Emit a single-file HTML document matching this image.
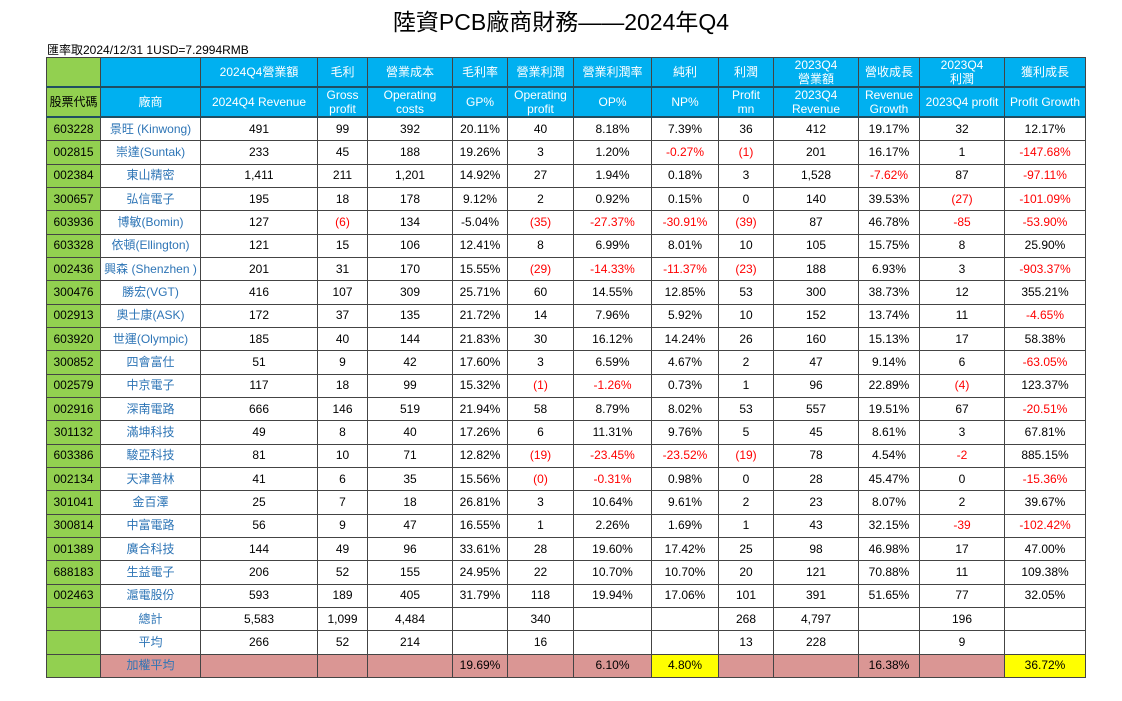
<!DOCTYPE html>
<html><head><meta charset="utf-8">
<style>
body{margin:0;width:1122px;height:701px;background:#fff;position:relative;overflow:hidden;font-family:"Liberation Sans","Noto Sans CJK TC",sans-serif;}
#title{position:absolute;left:0;width:1122px;top:7px;text-align:center;font-size:23px;color:#000;line-height:30px;}
#sub{position:absolute;left:47px;top:41px;font-size:12px;color:#000;}
table{position:absolute;left:46px;top:57px;border-collapse:collapse;table-layout:fixed;width:1039px;border:1.5px solid #222;}
td{border:1px solid #444;padding:0;text-align:center;font-size:12px;line-height:13px;overflow:hidden;white-space:nowrap;height:22.33px;color:#000;}
tr.h td{background:#00B0F0;color:#fff;height:26px;line-height:14px;border-bottom:2px solid #1f4e62;}
td.g{background:#92D050 !important;color:#000 !important;}
td.n{color:#2E75B6;}
td.r{color:#f00;}
td.p{background:#DA9694;}
td.y{background:#FFFF00;}
</style></head><body>
<div id="title">陸資PCB廠商財務——2024年Q4</div>
<div id="sub">匯率取2024/12/31 1USD=7.2994RMB</div>
<table id="tbl">
<colgroup><col style="width:54px"><col style="width:100px"><col style="width:117px"><col style="width:50px"><col style="width:85px"><col style="width:55px"><col style="width:66px"><col style="width:78px"><col style="width:67px"><col style="width:55px"><col style="width:85px"><col style="width:61px"><col style="width:85px"><col style="width:81px"></colgroup>
<tbody id="tb"></tbody></table>
<script>
const headers1 = ["","","2024Q4營業額","毛利","營業成本","毛利率","營業利潤","營業利潤率","純利","利潤","2023Q4<br>營業額","營收成長","2023Q4<br>利潤","獲利成長"];
const headers2 = ["股票代碼","廠商","2024Q4 Revenue","Gross<br>profit","Operating<br>costs","GP%","Operating<br>profit","OP%","NP%","Profit<br>mn","2023Q4<br>Revenue","Revenue<br>Growth","2023Q4 profit","Profit Growth"];
const codes = ["603228","002815","002384","300657","603936","603328","002436","300476","002913","603920","300852","002579","002916","301132","603386","002134","301041","300814","001389","688183","002463"];
const names = ["景旺 (Kinwong)","崇達(Suntak)","東山精密","弘信電子","博敏(Bomin)","依頓(Ellington)","興森 (Shenzhen )","勝宏(VGT)","奧士康(ASK)","世運(Olympic)","四會富仕","中京電子","深南電路","滿坤科技","駿亞科技","天津普林","金百澤","中富電路","廣合科技","生益電子","滬電股份"];
const revenue24 = ["491","233","1,411","195","127","121","201","416","172","185","51","117","666","49","81","41","25","56","144","206","593"];
const grossProfit = ["99","45","211","18","(6)","15","31","107","37","40","9","18","146","8","10","6","7","9","49","52","189"];
const opCosts = ["392","188","1,201","178","134","106","170","309","135","144","42","99","519","40","71","35","18","47","96","155","405"];
const gp = ["20.11%","19.26%","14.92%","9.12%","-5.04%*","12.41%","15.55%","25.71%","21.72%","21.83%","17.60%","15.32%","21.94%","17.26%","12.82%","15.56%","26.81%","16.55%","33.61%","24.95%","31.79%"];
const opProfit = ["40","3","27","2","(35)","8","(29)","60","14","30","3","(1)","58","6","(19)","(0)","3","1","28","22","118"];
const op = ["8.18%","1.20%","1.94%","0.92%","-27.37%","6.99%","-14.33%","14.55%","7.96%","16.12%","6.59%","-1.26%","8.79%","11.31%","-23.45%","-0.31%","10.64%","2.26%","19.60%","10.70%","19.94%"];
const np = ["7.39%","-0.27%","0.18%","0.15%","-30.91%","8.01%","-11.37%","12.85%","5.92%","14.24%","4.67%","0.73%","8.02%","9.76%","-23.52%","0.98%","9.61%","1.69%","17.42%","10.70%","17.06%"];
const profit = ["36","(1)","3","0","(39)","10","(23)","53","10","26","2","1","53","5","(19)","0","2","1","25","20","101"];
const revenue23 = ["412","201","1,528","140","87","105","188","300","152","160","47","96","557","45","78","28","23","43","98","121","391"];
const revGrowth = ["19.17%","16.17%","-7.62%","39.53%","46.78%","15.75%","6.93%","38.73%","13.74%","15.13%","9.14%","22.89%","19.51%","8.61%","4.54%","45.47%","8.07%","32.15%","46.98%","70.88%","51.65%"];
const profit23 = ["32","1","87","(27)","-85","8","3","12","11","17","6","(4)","67","3","-2","0","2","-39","17","11","77"];
const profitGrowth = ["12.17%","-147.68%","-97.11%","-101.09%","-53.90%","25.90%","-903.37%","355.21%","-4.65%","58.38%","-63.05%","123.37%","-20.51%","67.81%","885.15%","-15.36%","39.67%","-102.42%","47.00%","109.38%","32.05%"];
const totals = ["","總計","5,583","1,099","4,484","","340","","","268","4,797","","196",""];
const averages = ["","平均","266","52","214","","16","","","13","228","","9",""];
const weighted = ["","加權平均","","","","19.69%","","6.10%","4.80%","","","16.38%","","36.72%"];

const tb = document.getElementById('tb');
function addRow(vals, kind){
  const tr = document.createElement('tr');
  
  
  if (kind.startsWith('header')) tr.className = 'h';
  vals.forEach((v, i) => {
    const td = document.createElement('td');
    
    
    let s = v;
    if (i === 0) td.classList.add('g');
    if (kind === 'data' || kind === 'summary') {
      if (i === 1) td.classList.add('n');
      if (s.endsWith('*')) s = s.slice(0, -1);
      else if (i > 1 && (s.startsWith('(') || s.startsWith('-'))) td.classList.add('r');
    }
    if (kind === 'weighted' && i >= 1) {
      if (i === 1) td.classList.add('n');
      td.classList.add((i === 8 || i === 13) ? 'y' : 'p');
    }
    td.innerHTML = s;
    tr.appendChild(td);
  });
  tb.appendChild(tr);
}
addRow(headers1, 'header-cn');
addRow(headers2, 'header-en');
for (let k = 0; k < codes.length; k++) {
  addRow([codes[k], names[k], revenue24[k], grossProfit[k], opCosts[k], gp[k], opProfit[k], op[k], np[k], profit[k], revenue23[k], revGrowth[k], profit23[k], profitGrowth[k]], 'data');
}
addRow(totals, 'summary');
addRow(averages, 'summary');
addRow(weighted, 'weighted');
</script>
</body></html>
